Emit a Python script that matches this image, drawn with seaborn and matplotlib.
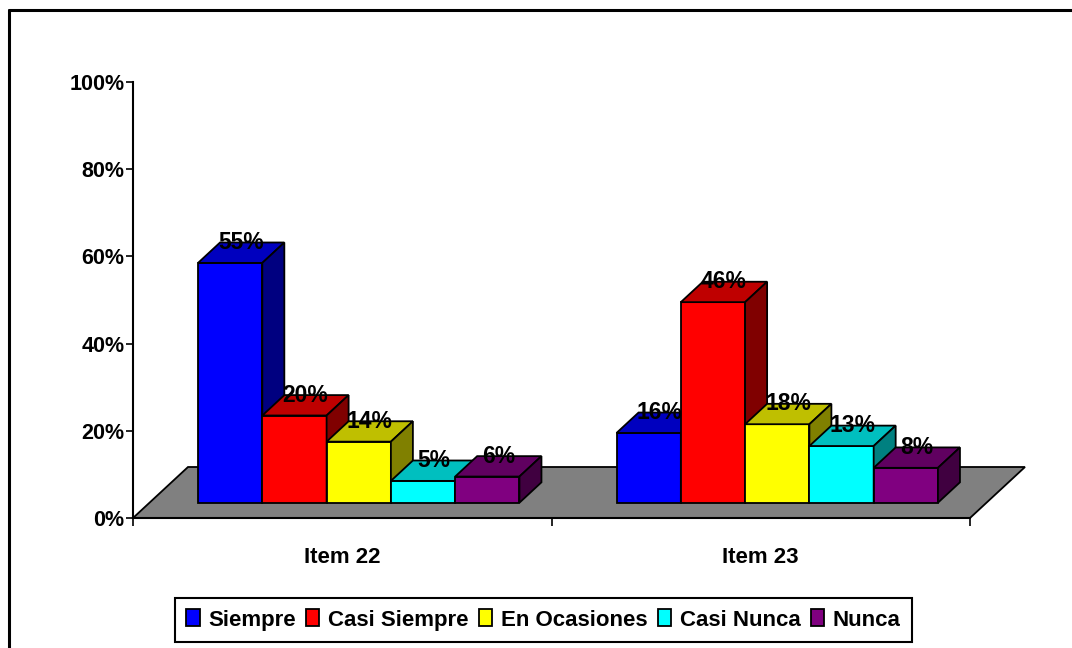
import numpy as np
import pandas as pd
import seaborn as sns
import matplotlib.pyplot as plt
from matplotlib.patches import Polygon, Patch
from matplotlib.lines import Line2D
from matplotlib.colors import to_rgb

# datos
items = ["Item 22", "Item 23"]
respuestas = ["Siempre", "Casi Siempre", "En Ocasiones", "Casi Nunca", "Nunca"]
item22 = [55, 20, 14, 5, 6]
item23 = [16, 46, 18, 13, 8]
colores = ["#0000FF", "#FF0000", "#FFFF00", "#00FFFF", "#800080"]

df = pd.DataFrame({
    "item": np.repeat(items, len(respuestas)),
    "respuesta": respuestas * 2,
    "valor": item22 + item23,
})

sns.set_theme(style="white")
plt.rcParams["font.family"] = ["Liberation Sans", "DejaVu Sans"]
plt.rcParams["font.weight"] = "bold"
plt.rcParams["text.color"] = "black"
plt.rcParams["xtick.color"] = "black"
plt.rcParams["ytick.color"] = "black"

W, H = 1072, 648
fig = plt.figure(figsize=(W / 100, H / 100), dpi=100)
ax = fig.add_axes([133 / W, 130 / H, 837 / W, 436 / H])

sns.barplot(data=df, x="item", y="valor", hue="respuesta", palette=colores,
            width=0.768, gap=0, saturation=1, edgecolor="black", linewidth=1.3,
            legend=False, ax=ax)

ax.set_xlim(-0.5, 1.5)
ax.set_ylim(0, 100)

# pseudo 3D: profundidad del piso en pixeles -> unidades de datos
px_x = 2 / 837
px_y = 100 / 436
piso_dx, piso_dy = 55 * px_x, 51 * px_y

piso = Polygon([(-0.5, 0), (1.5, 0), (1.5 + piso_dx, piso_dy), (-0.5 + piso_dx, piso_dy)],
               closed=True, facecolor="#808080", edgecolor="black", linewidth=1.3,
               zorder=1, clip_on=False)
ax.add_patch(piso)

# barras entre 0.3 y 0.7 de la profundidad
off_x, off_y = 0.3 * piso_dx, 0.3 * piso_dy
dx, dy = 0.4 * piso_dx, 0.4 * piso_dy

barras = sorted(ax.patches[:-1], key=lambda p: p.get_x())
for i, p in enumerate(barras):
    x0 = p.get_x() + off_x
    w = p.get_width()
    h = p.get_height()
    p.set_x(x0)
    p.set_y(off_y)
    p.set_zorder(3 + i)
    p.set_clip_on(False)
    base = np.array(to_rgb(p.get_facecolor()))
    top = Polygon([(x0, off_y + h), (x0 + w, off_y + h), (x0 + w + dx, off_y + h + dy),
                   (x0 + dx, off_y + h + dy)], closed=True, facecolor=base * 0.75,
                  edgecolor="black", linewidth=1.3, zorder=3 + i, clip_on=False)
    side = Polygon([(x0 + w, off_y), (x0 + w + dx, off_y + dy), (x0 + w + dx, off_y + h + dy),
                    (x0 + w, off_y + h)], closed=True, facecolor=base * 0.5,
                   edgecolor="black", linewidth=1.3, zorder=3 + i, clip_on=False)
    ax.add_patch(top)
    ax.add_patch(side)
    ax.text(x0 + w / 2 + dx / 2, off_y + h + dy, f"{h:.0f}%", ha="center", va="center",
            fontsize=16.5, fontweight="bold", color="black", zorder=30)

# ejes
ax.set_xlabel("")
ax.set_ylabel("")
ax.set_yticks(range(0, 101, 20))
ax.set_yticklabels([f"{v}%" for v in range(0, 101, 20)], fontsize=15.5, fontweight="bold")
ax.set_xticks([0, 1])
ax.set_xticklabels(items, fontsize=16, fontweight="bold")
ax.set_xticks([-0.5, 0.5, 1.5], minor=True)
ax.tick_params(axis="x", which="major", length=0, pad=21)
ax.tick_params(axis="x", which="minor", length=6, width=1.2, direction="out", bottom=True)
ax.tick_params(axis="y", length=5, width=1.2, direction="out", left=True, pad=1)
for s in ["top", "right"]:
    ax.spines[s].set_visible(False)
for s in ["left", "bottom"]:
    ax.spines[s].set_color("black")
    ax.spines[s].set_linewidth(1.5)
    ax.spines[s].set_zorder(2)
ax.patch.set_alpha(0)

# leyenda
handles = [Patch(facecolor=c, edgecolor="black", linewidth=1.3) for c in colores]
leg = fig.legend(handles, respuestas, loc="center", bbox_to_anchor=(543.5 / W, 1 - 620 / H),
                 ncol=5, frameon=True, fancybox=False, framealpha=1, edgecolor="black",
                 prop={"size": 16, "weight": "bold"}, handlelength=0.6, handleheight=0.8,
                 handletextpad=0.4, columnspacing=0.45, borderpad=0.5)
leg.get_frame().set_linewidth(1.5)

# marco exterior
fig.add_artist(Line2D([9 / W, 1], [1 - 10 / H, 1 - 10 / H], color="black", linewidth=2.2))
fig.add_artist(Line2D([9 / W, 9 / W], [0, 1 - 10 / H], color="black", linewidth=2.2))

fig.savefig("out.png", dpi=100)
